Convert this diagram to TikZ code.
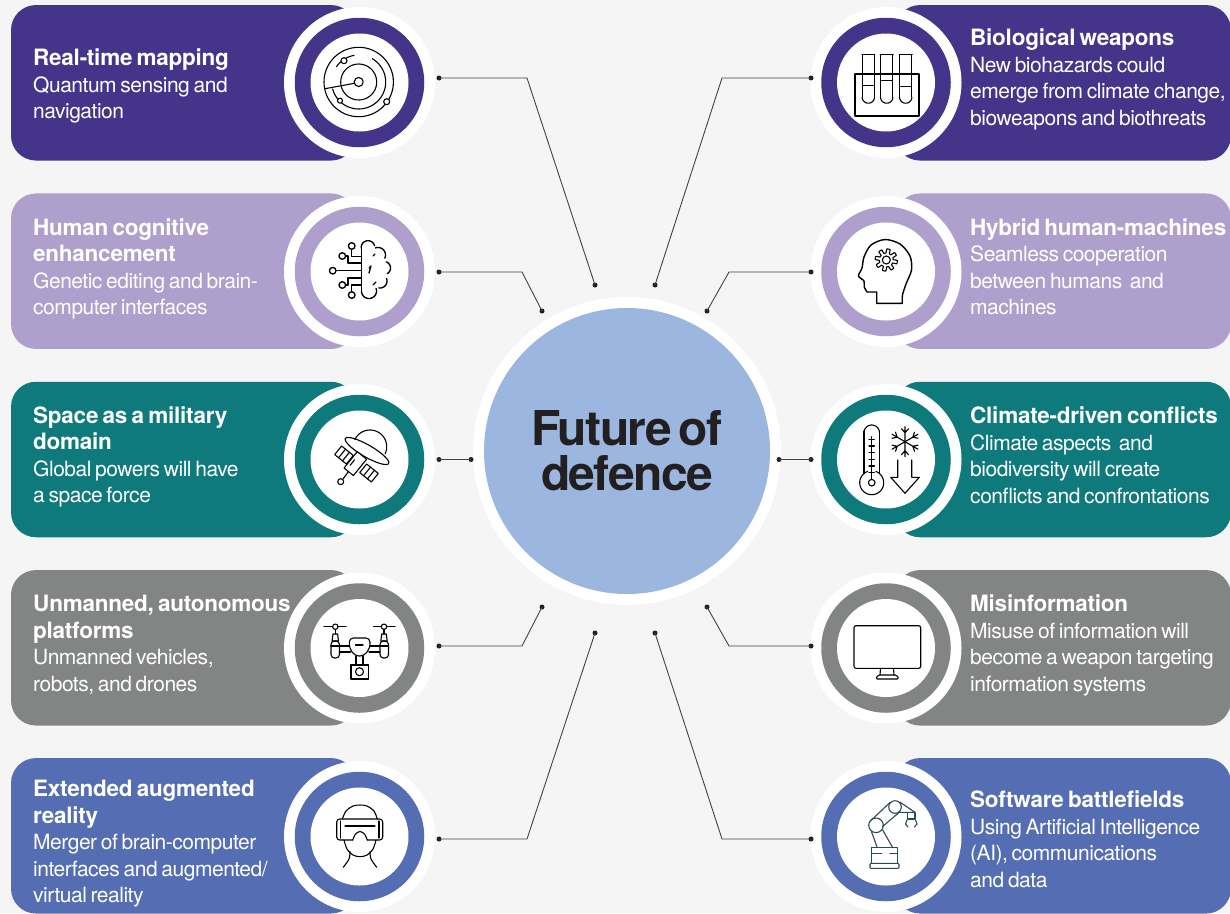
\documentclass[tikz,border=0pt]{standalone}
\usepackage{fontspec}
\setmainfont{TeX Gyre Heros}
\newfontfamily\tfam[LetterSpace=-1.1,WordSpace=0.7]{TeX Gyre Heros}
\newfontfamily\bfam[LetterSpace=-2.3,WordSpace=0.7]{TeX Gyre Heros}
\newfontfamily\cfam[LetterSpace=-3.2,WordSpace=0.6]{TeX Gyre Heros}
\newcommand\ttl{\tfam\bfseries\fontsize{22.5}{26.5}\selectfont}
\newcommand\bdy{\bfam\mdseries\fontsize{21}{26.5}\selectfont}
\newcommand\fst{\rule{0pt}{20pt}}
\newcommand\panw{345pt}
\definecolor{cbg}{HTML}{F5F5F5}
\definecolor{cpur}{HTML}{44358A}
\definecolor{clil}{HTML}{AF9FCC}
\definecolor{cteal}{HTML}{0F7A7C}
\definecolor{cgry}{HTML}{838584}
\definecolor{cblu}{HTML}{546DB3}
\definecolor{cmid}{HTML}{9BB6DF}
\definecolor{cink}{HTML}{231F20}
\definecolor{crob}{HTML}{2C4A52}
\tikzset{
  panel/.style={rectangle,rounded corners=25pt,inner sep=0,draw=none,minimum height=155.5pt,minimum width=\panw},
  halo/.style={circle,fill=white,inner sep=0,minimum size=151pt},
  ring/.style={circle,inner sep=0,minimum size=129.5pt},
  core/.style={circle,fill=white,inner sep=0,minimum size=98pt},
  txt/.style={anchor=north west,inner sep=0,align=left,text=white,font=\bdy},
  dotn/.style={circle,fill=cink,inner sep=0,minimum size=5pt},
  wire/.style={draw=cink!85,line width=0.9pt},
  icon/.style={draw=black,line width=1.1pt,line join=round,line cap=round},
}
\newcommand\rowitem[5]{%
  \node[panel,fill=#4] (p#1) at (#5) {};
  \node[halo] (h#1) at (#2,#3) {};
  \node[ring,fill=#4] (r#1) at (#2,#3) {};
  \node[core] (c#1) at (#2,#3) {};
}
\newcommand\arcd[5]{\draw[icon] plot[domain=#4:#5,samples=40,variable=\t] ({#1+#3*cos(\t)},{#2+#3*sin(\t)});}
\newcommand\conn[7]{%
  \node[dotn] (a#1) at (#2,#3) {};
  \node[dotn] (b#1) at (#6,#7) {};
  \coordinate (k#1) at (#4,#5);
  \draw[wire] (a#1.center) -- (k#1) -- (b#1.center);
}
\begin{document}
\begin{tikzpicture}[x=1pt,y=-1pt]
\useasboundingbox (0,0) rectangle (1230,913);
\fill[cbg] (0,0) rectangle (1230,913);
% panels and rings
\rowitem{L1}{359.5}{82.5}{cpur}{183.5,82.8}
\rowitem{L2}{359.5}{271.5}{clil}{183.5,271.2}
\rowitem{L3}{359.5}{459.5}{cteal}{183.5,459.5}
\rowitem{L4}{359.5}{648}{cgry}{183.5,647.8}
\rowitem{L5}{359.5}{836.5}{cblu}{183.5,835.8}
\renewcommand\panw{336pt}
\rowitem{R1}{886}{82.5}{cpur}{1063,82.8}
\rowitem{R2}{886}{271.5}{clil}{1063,271.2}
\rowitem{R3}{886}{459.5}{cteal}{1063,459.5}
\rowitem{R4}{886}{648}{cgry}{1063,647.8}
\rowitem{R5}{886}{836.5}{cblu}{1063,835.8}
% centre
\node[circle,fill=white,inner sep=0,minimum size=308pt] (ch) at (627,451) {};
\node[circle,fill=cmid,inner sep=0,minimum size=286pt,align=center,text=cink,
      font=\cfam\bfseries\fontsize{48}{45}\selectfont] (ctr) at (627,451) {Future of\\defence};
% connectors
\conn{1}{439}{78}{527}{78}{595}{285}
\conn{2}{439}{272}{522}{272}{542}{311}
\conn{3}{439}{459.5}{455}{459.5}{471}{459.5}
\conn{4}{439}{646}{522}{646}{542}{607}
\conn{5}{439}{839}{527}{839}{595}{633}
\conn{6}{811}{78}{722}{78}{655}{285}
\conn{7}{811}{272}{729}{272}{707}{311}
\conn{8}{811}{459.5}{795}{459.5}{779}{459.5}
\conn{9}{811}{646}{729}{646}{707}{607}
\conn{10}{811}{839}{722}{839}{655}{633}
% texts
\node[txt] (t1) at (33,45.3) {\ttl\fst Real-time mapping\\Quantum sensing and\\navigation};
\node[txt] (t2) at (33,214.9) {\ttl\fst Human cognitive\\\ttl enhancement\\Genetic editing and brain-\\computer interfaces};
\node[txt] (t3) at (33,403) {\ttl\fst Space as a military\\\ttl domain\\Global powers will have\\a space force};
\node[txt] (t4) at (33,591.6) {\ttl\fst Unmanned, autonomous\\\ttl platforms\\Unmanned vehicles,\\robots, and drones};
\node[txt] (t5) at (33,776.3) {\ttl\fst Extended augmented\\\ttl reality\\Merger of brain-computer\\interfaces and augmented/\\virtual reality};
\node[txt] (t6) at (970,25.6) {\ttl\fst Biological weapons\\New biohazards could\\emerge from climate change,\\bioweapons and biothreats};
\node[txt] (t7) at (970,214.9) {\ttl\fst Hybrid human-machines\\Seamless cooperation\\between humans\ \ and\\machines};
\node[txt] (t8) at (970,403.3) {\ttl\fst Climate-driven conflicts\\Climate aspects\ \ and\\biodiversity will create\\conflicts and confrontations};
\node[txt] (t9) at (970,591.3) {\ttl\fst Misinformation\\Misuse of information will\\become a weapon targeting\\information systems};
\node[txt] (t10) at (970,787.3) {\ttl\fst Software battlefields\\Using Artificial Intelligence\\(AI), communications\\and data};
% ---- icon: radar
\draw[icon] (358.7,82) circle[radius=34.7pt];
\arcd{358.7}{82}{27}{-60}{165}
\arcd{358.7}{82}{27}{215}{260}
\arcd{358.7}{82}{18}{-190}{170}
\draw[icon] (358.7,82) circle[radius=4.5pt];
\draw[icon] (325,88.7) -- (354.5,83.3);
\draw[icon,fill=white] (344,60.7) circle[radius=3pt];
\draw[icon,fill=white] (340,100.7) circle[radius=2.5pt];
\draw[icon,fill=white] (386.7,101.7) circle[radius=3pt];
% ---- icon: brain
\begin{scope}[icon/.append style={line width=1.35pt}]
\arcd{368}{247.5}{6.8}{175}{345}
\arcd{378}{255}{7.5}{250}{385}
\arcd{384}{268}{6.5}{290}{420}
\arcd{380}{281}{7}{340}{460}
\arcd{369}{291}{7.5}{-20}{180}
\draw[icon] (361.4,247.5) -- (361.4,291);
\draw[icon] (369,268) -- (371,266) -- (369,273);
\draw[icon] (373,256) -- (375,254);
\draw[icon] (373,285) -- (376,282);
\foreach \px/\py in {351.7/246,342.3/256,332.7/270.7,342.3/285,351.7/295}
  \draw[icon] (\px,\py) circle[radius=3.3pt];
\draw[icon] (351.7,249.3) -- (351.7,256.5) -- (361.4,256.5);
\draw[icon] (345.6,256) -- (348,256) -- (348,263) -- (361.4,263);
\draw[icon] (336,270.7) -- (361.4,270.7);
\draw[icon] (345.6,285) -- (348,285) -- (348,278) -- (361.4,278);
\draw[icon] (351.7,291.7) -- (351.7,285) -- (361.4,285);
\end{scope}
% ---- icon: satellite
\arcd{370}{446.7}{16.7}{205}{385}
\draw[icon,rotate around={-30:(367,451)}] (367,451) ellipse[x radius=25pt,y radius=6pt];
\begin{scope}[shift={(355,464)},rotate=51]
  \draw[icon,fill=white] (-10,-6) rectangle (11,6);
  \draw[icon] (-4,-3) -- (3,-3);
\end{scope}
\begin{scope}[shift={(344,455)},rotate=51]
  \draw[icon,fill=white] (-5.5,-7.5) rectangle (5.5,7.5);
  \draw[icon] (-5.5,-2.5) -- (5.5,-2.5) (-5.5,2.5) -- (5.5,2.5);
\end{scope}
\begin{scope}[shift={(369,473)},rotate=51]
  \draw[icon,fill=white] (-5.5,-7.5) rectangle (5.5,7.5);
  \draw[icon] (-5.5,-2.5) -- (5.5,-2.5) (-5.5,2.5) -- (5.5,2.5);
\end{scope}
\draw[icon] (348.5,471.5) -- (343,479);
\draw[icon] (340.7,481.7) circle[radius=3pt];
% ---- icon: drone
\draw[icon] (324,626.7) -- (332.5,626.7) (338,626.7) -- (346,626.7);
\draw[icon] (373.3,626.7) -- (381.2,626.7) (386.8,626.7) -- (395,626.7);
\draw[icon] (335.3,626.7) circle[radius=2.7pt] (384,626.7) circle[radius=2.7pt];
\draw[icon] (335.3,629.4) -- (335.3,634) (384,629.4) -- (384,634);
\draw[icon] (333,634) -- (337.6,634) -- (338.5,641) -- (332.1,641) -- cycle;
\draw[icon] (381.7,634) -- (386.3,634) -- (387.2,641) -- (380.8,641) -- cycle;
\draw[icon,rounded corners=3.5pt] (331,641) rectangle (339.5,658);
\draw[icon,rounded corners=3.5pt] (380,641) rectangle (388.5,658);
\draw[icon] (331,646) -- (339.5,646) (380,646) -- (388.5,646);
\draw[icon] (339.5,646) -- (349.5,646) (339.5,652) -- (350.5,652);
\draw[icon] (370,646) -- (380,646) (369,652) -- (380,652);
\draw[icon,rounded corners=4pt] (349.3,638) -- (370,638) -- (370,648) -- (364,656) -- (355,656) -- (349.3,648) -- cycle;
\draw[icon] (355.5,645) -- (363,645);
\draw[icon] (356,656) -- (356,665) (363,656) -- (363,665);
\draw[icon] (351,665) rectangle (368.3,679);
\draw[icon] (359.5,671.7) circle[radius=4pt];
% ---- icon: VR
\draw[icon] plot[smooth] coordinates {(342.3,819) (346,811) (353,806) (360,805) (367,806) (374,811) (377.3,819)};
\draw[icon] plot[smooth] coordinates {(344,840) (347,849) (353,855) (360,856.7) (367,855) (373,849) (376,840)};
\draw[icon,rounded corners=3pt] (352.7,840) -- (336.7,840) -- (336.7,819) -- (382.7,819) -- (382.7,840) -- (367.3,840);
\draw[icon] plot[smooth] coordinates {(352.7,840) (355.5,834) (360,831.5) (364.5,834) (367.3,840)};
\draw[icon] (340.7,821) -- (340.7,838) (379,821) -- (379,838) (345,826) -- (375,826);
\draw[icon] plot[smooth] coordinates {(350,851.7) (349,859) (343.3,867.3)};
\draw[icon] plot[smooth] coordinates {(370,851.7) (371,859) (376.7,867.3)};
% ---- icon: test tubes
\foreach \tx/\ly in {868.3/85.7,886.7/80.7,905.7/86.7}{
  \draw[icon] (\tx-6.2,54.3) -- (\tx-6.2,97);
  \draw[icon] (\tx+6.2,54.3) -- (\tx+6.2,97);
  \arcd{\tx}{97}{6.2}{0}{180}
  \draw[icon] (\tx-6.5,54.3) -- (\tx+6.5,54.3);
  \draw[icon] (\tx-5,\ly) -- (\tx+5,\ly);
}
\draw[icon] (855,74) rectangle (919,116);
% ---- icon: head
\draw[icon,line width=1.4pt] plot[smooth] coordinates {(867,292) (864.2,287) (864,281) (858.5,276) (862,268) (864,257) (871,245) (885,239.5) (900,244) (910,256) (911.5,270) (906,284) (902.5,295) (902.3,303.3)} -- (876.7,303.3) -- (876.7,292) -- (867,292);
\draw[icon] plot[domain=0:360,samples=241,variable=\t] ({886.3+(9+2.1*max(-1,min(1,3*sin(8*\t))))*cos(\t)},{260+(9+2.1*max(-1,min(1,3*sin(8*\t))))*sin(\t)}) -- cycle;
\draw[icon] (886.3,260) circle[radius=4pt];
% ---- icon: thermometer and snow
\arcd{871.7}{482.7}{12}{-70}{250}
\draw[icon] (864,431) -- (864,473.5) (879.4,431) -- (879.4,473.5);
\arcd{871.7}{432.7}{7.7}{180}{360}
\draw[icon] (871.7,436.7) -- (871.7,479);
\draw[icon] (871.7,482.7) circle[radius=3.3pt];
\foreach \yy in {439.5,446,452.7,459.3,466,472.7}
  \draw[icon] (869,\yy) -- (874.4,\yy);
\foreach \aa in {30,90,...,330}{
  \begin{scope}[shift={(905,441.7)},rotate=\aa]
    \draw[icon] (0,0) -- (15,0) (9,0) -- (13,-3.5) (9,0) -- (13,3.5);
  \end{scope}
}
\draw[icon] (897.7,460) -- (897.7,477.3) -- (890.7,477.3) -- (905,493.3) -- (919.3,477.3) -- (911.7,477.3) -- (911.7,460);
% ---- icon: monitor
\draw[icon,rounded corners=2pt] (854,625.7) rectangle (920.7,668.3);
\draw[icon] (880.5,668.3) -- (880,675) (893.5,668.3) -- (894,675);
\draw[icon,rounded corners=1.5pt] (875.7,679) -- (878,675) -- (896.7,675) -- (899,679) -- cycle;
% ---- icon: robot
\begin{scope}[icon/.append style={draw=crob}]
\draw[icon] (876,825.3) circle[radius=7.3pt];
\draw[icon] (895,807) circle[radius=6.3pt];
\draw[icon] (871.5,831.7) -- (877.3,847.7) (882.7,830) -- (892.7,847.7);
\draw[icon] (870.3,821) -- (890,802.5) (882.3,826.7) -- (900,811.7);
\draw[icon] (899.7,802) -- (915,812.3) -- (900,812.3);
\draw[icon] (907.3,812.3) rectangle (915,819);
\draw[icon] (907,820) -- (905.5,824) -- (908,827) (915.5,820) -- (917,824) -- (914.5,827);
\draw[icon] (871.7,847.7) rectangle (897.3,863.3);
\draw[icon] (871.7,853.3) -- (881.7,853.3) (890,853.3) -- (897.3,853.3);
\draw[icon,rounded corners=1pt] (870,863.3) rectangle (899,868.3);
\end{scope}
\end{tikzpicture}
\end{document}
